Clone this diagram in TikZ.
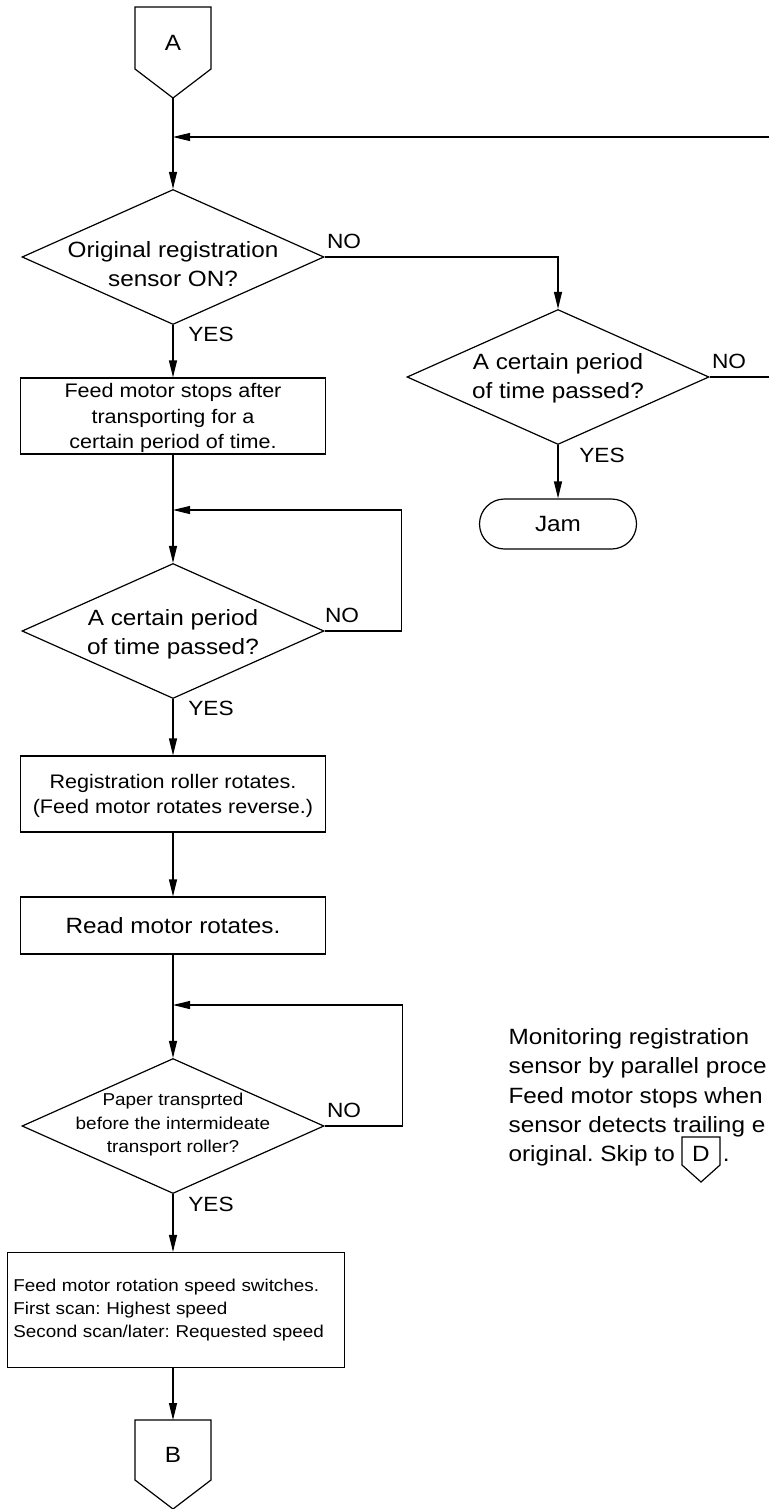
\documentclass[tikz,border=0pt]{standalone}
\usepackage{fontspec}
\setmainfont[FakeStretch=1.1]{Liberation Sans}
\usetikzlibrary{shapes.geometric,arrows.meta}

\begin{document}
\frenchspacing
\begin{tikzpicture}[x=0.5pt, y=-0.5pt, line width=0.6pt,
    flow/.style={-{Triangle[length=8.5pt,width=4pt]}},
    decision/.style={diamond, draw, minimum width=151pt, minimum height=67.5pt, inner sep=0pt},
    process/.style={rectangle, draw, minimum width=152.5pt, inner sep=0pt, align=center, text depth=0pt},
    terminal/.style={rectangle, draw, rounded corners=12.5pt, minimum width=78.5pt, minimum height=25pt, inner sep=0pt},
    qtext/.style={align=center, inner sep=0pt, text depth=0pt},
    big/.style={font=\fontsize{11.05pt}{14.2pt}\selectfont},
    mid/.style={font=\fontsize{9.8pt}{12.6pt}\selectfont},
    small/.style={font=\fontsize{8.6pt}{11.7pt}\selectfont},
    detail/.style={font=\fontsize{8.57pt}{11.65pt}\selectfont},
    answer/.style={font=\fontsize{10.3pt}{12pt}\selectfont, inner sep=0pt, text depth=0pt}]

  \useasboundingbox (0,0) rectangle (769,1509);

  % Connector A
  \draw (135,7) -- (211,7) -- (211,69) -- (173,98) -- (135,69) -- cycle;
  \coordinate (A-tip) at (173,98);
  \node[big, inner sep=0pt] (A) at (173,43) {A};

  % Return from the right
  \coordinate (joinTop) at (173,137);
  \coordinate (edgeTop) at (769,137);
  \coordinate (edgeMid) at (769,377);

  % First check
  \node[decision] (regOn) at (173,257) {};
  \node[qtext, big] (regOnText) at (173,264) {Original registration\\sensor ON?};
  \node[decision] (timeOut) at (558,377) {};
  \node[qtext, big] (timeOutText) at (558,376) {A certain period\\of time passed?};
  \node[terminal, big] (jam) at (558,524) {Jam};
  \node[process, mid, minimum height=38pt] (feedStop) at (173,416) {Feed motor stops after\\transporting for a\\certain period of time.};

  % Wait loop
  \coordinate (joinWait) at (173,510);
  \node[decision] (wait) at (173,631) {};
  \node[qtext, big] (waitText) at (173,632) {A certain period\\of time passed?};
  \node[process, mid, minimum height=38pt] (regRoll) at (173,794) {Registration roller rotates.\\(Feed motor rotates reverse.)};
  \node[process, big, minimum height=28.5pt] (readMotor) at (173,925.5) {Read motor rotates.};

  % Paper loop
  \coordinate (joinPaper) at (173,1005);
  \node[decision] (paperPos) at (173,1126) {};
  \node[qtext, small] (paperPosText) at (173,1123) {Paper transprted\\before the intermideate\\transport roller?};
  \node[draw, detail, minimum height=57.5pt, text width=162.5pt, inner xsep=3pt, inner ysep=0pt, align=left] (speedSw) at (175.8,1310) {Feed motor rotation speed switches.\\First scan: Highest speed\\Second scan/later: Requested speed};

  % Connector B
  \coordinate (B-top) at (173,1420);
  \draw (135,1420) -- (211,1420) -- (211,1480) -- (173,1509) -- (135,1480) -- cycle;
  \node[big, inner sep=0pt] (B) at (173,1455) {B};

  % Labels
  \node[answer] (no1) at (344,241) {NO};
  \node[answer] (yes1) at (211,334) {YES};
  \node[answer] (no2) at (729,361) {NO};
  \node[answer] (yes2) at (602,455) {YES};
  \node[answer] (no3) at (342,615) {NO};
  \node[answer] (yes3) at (211,708) {YES};
  \node[answer] (no4) at (344,1110) {NO};
  \node[answer] (yes4) at (211,1204) {YES};

  % Note with connector D
  \node[font=\fontsize{11.05pt}{14.6pt}\selectfont, align=left, inner sep=0pt, anchor=north west] (note) at (508,1028) {Monitoring registration\\sensor by parallel proce\\Feed motor stops when\\sensor detects trailing e\\original. Skip to\hspace{24pt}.};
  \draw (682,1137) -- (720,1137) -- (720,1165) -- (701,1182) -- (682,1165) -- cycle;
  \node[big, inner sep=0pt] (D) at (701,1154) {D};

  % Flow lines
  \draw[flow] (A-tip) -- (regOn.north);
  \draw[flow] (edgeTop) -- (joinTop);
  \draw[flow] (regOn.east) -| (timeOut.north);
  \draw (timeOut.east) -- (edgeMid);
  \draw[flow] (timeOut.south) -- (jam.north);
  \draw[flow] (regOn.south) -- (feedStop.north);
  \draw[flow] (feedStop.south) -- (wait.north);
  \draw[flow] (wait.east) -- ++(77,0) |- (joinWait);
  \draw[flow] (wait.south) -- (regRoll.north);
  \draw[flow] (regRoll.south) -- (readMotor.north);
  \draw[flow] (readMotor.south) -- (paperPos.north);
  \draw[flow] (paperPos.east) -- ++(78,0) |- (joinPaper);
  \draw[flow] (paperPos.south) -- (paperPos.south |- speedSw.north);
  \draw[flow] (paperPos.south |- speedSw.south) -- (B-top);
\end{tikzpicture}
\end{document}
